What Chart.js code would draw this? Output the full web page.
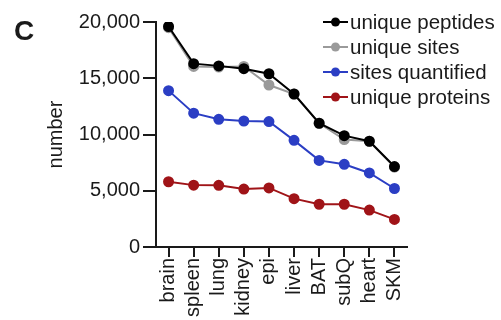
<!DOCTYPE html>
<html>
<head>
<meta charset="utf-8">
<script src="https://cdn.jsdelivr.net/npm/chart.js@4/dist/chart.umd.min.js"></script>
<style>
  html, body { margin: 0; padding: 0; background: #fff; }
  #wrap { width: 501px; height: 320px; position: relative; }
</style>
</head>
<body>
<div id="wrap"><canvas id="c"></canvas></div>
<script>
// Tissues along the x axis
const tissues = ['brain', 'spleen', 'lung', 'kidney', 'epi', 'liver', 'BAT', 'subQ', 'heart', 'SKM'];

// Counts per tissue
const uniquePeptides   = [19600, 16300, 16100, 15850, 15400, 13600, 11000, 9900, 9400, 7150];
const uniqueSites      = [19500, 16050, 16000, 16050, 14400, 13600, 11000, 9550, 9400, 7100];
const sitesQuantified  = [13900, 11900, 11350, 11200, 11150, 9480, 7700, 7350, 6580, 5200];
const uniqueProteins   = [5800, 5500, 5480, 5150, 5250, 4300, 3800, 3800, 3280, 2450];

const seriesNames = ['unique peptides', 'unique sites', 'sites quantified', 'unique proteins'];
const yTicks = [0, 5000, 10000, 15000, 20000];

const FONT = '"Liberation Sans", Arial, Helvetica, sans-serif';
const INK = '#1a1a1a';

function series(label, data, color) {
  return {
    label, data,
    borderColor: color,
    backgroundColor: color,
    pointBackgroundColor: color,
    pointBorderColor: color,
    borderWidth: 2,
    pointRadius: 4.5,
    pointHoverRadius: 4.5,
    tension: 0,
    fill: false
  };
}

// Legend drawn beside the plot: short line with a dot, then the name
const lineLegend = {
  id: 'lineLegend',
  afterDraw(chart) {
    const ctx = chart.ctx;
    const x0 = 323, x1 = 348, tx = 350;
    let y = 22;
    ctx.save();
    ctx.font = '20.5px ' + FONT;
    ctx.textBaseline = 'middle';
    ctx.textAlign = 'left';
    chart.data.datasets.forEach(ds => {
      ctx.strokeStyle = ds.borderColor;
      ctx.fillStyle = ds.borderColor;
      ctx.lineWidth = 2;
      ctx.beginPath();
      ctx.moveTo(x0, y);
      ctx.lineTo(x1, y);
      ctx.stroke();
      ctx.beginPath();
      ctx.arc((x0 + x1) / 2, y, 4.5, 0, Math.PI * 2);
      ctx.fill();
      ctx.fillStyle = INK;
      ctx.fillText(ds.label, tx, y + 1);
      y += 25;
    });
    ctx.restore();
  }
};

// Panel letter
const panelLetter = {
  id: 'panelLetter',
  afterDraw(chart) {
    const ctx = chart.ctx;
    ctx.save();
    ctx.font = 'bold 28px ' + FONT;
    ctx.fillStyle = INK;
    ctx.textBaseline = 'middle';
    ctx.textAlign = 'left';
    ctx.fillText('C', 14, 32);
    ctx.restore();
  }
};

new Chart(document.getElementById('c'), {
  type: 'line',
  data: {
    labels: tissues,
    datasets: [
      series(seriesNames[0], uniquePeptides, '#000000'),
      series(seriesNames[1], uniqueSites, '#9a9a9a'),
      series(seriesNames[2], sitesQuantified, '#2b3ec4'),
      series(seriesNames[3], uniqueProteins, '#a01418')
    ]
  },
  options: {
    responsive: true,
    maintainAspectRatio: false,
    animation: false,
    layout: { padding: { top: 22, right: 94, left: 0, bottom: 0 } },
    plugins: {
      legend: { display: false },
      tooltip: { enabled: false }
    },
    scales: {
      x: {
        type: 'category',
        offset: true,
        border: { display: true, color: INK, width: 2 },
        grid: { display: true, drawOnChartArea: false, drawTicks: true, tickLength: 10, color: INK, lineWidth: 2 },
        ticks: {
          color: INK,
          font: { family: FONT, size: 20 },
          minRotation: 90,
          maxRotation: 90,
          padding: 1,
          autoSkip: false
        },
        afterFit(s) { s.height = 73; }
      },
      y: {
        min: 0,
        max: 20000,
        border: { display: true, color: INK, width: 2 },
        grid: { display: true, drawOnChartArea: false, drawTicks: true, tickLength: 13, color: INK, lineWidth: 2 },
        afterBuildTicks(s) { s.ticks = yTicks.map(v => ({ value: v })); },
        ticks: {
          color: INK,
          font: { family: FONT, size: 20 },
          padding: 3,
          callback: v => Number(v).toLocaleString('en-US')
        },
        title: {
          display: true,
          text: 'number',
          color: INK,
          font: { family: FONT, size: 20 },
          padding: { top: 44, bottom: 0 }
        },
        afterFit(s) { s.width = 156; }
      }
    }
  },
  plugins: [lineLegend, panelLetter]
});
</script>
</body>
</html>
